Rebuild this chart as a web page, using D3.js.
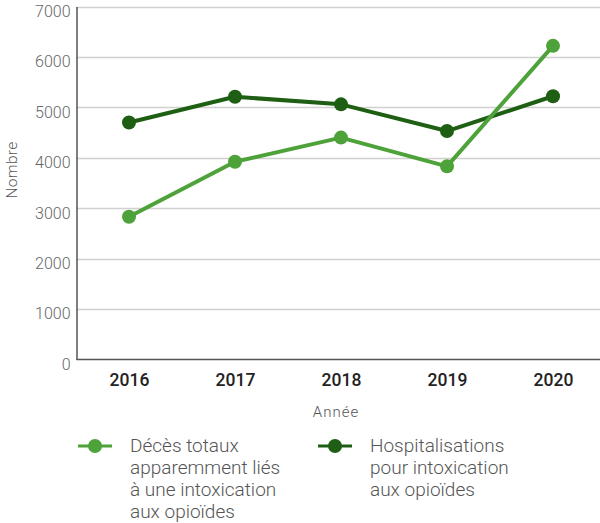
<!DOCTYPE html>
<html><head><meta charset="utf-8">
<script src="https://cdn.jsdelivr.net/npm/d3@7"></script>
<style>body{margin:0;background:#fff}svg{display:block;font-family:Roboto,sans-serif}</style>
</head><body><svg id="c" width="600" height="523"></svg>
<script>
const years = ["2016","2017","2018","2019","2020"];
const deces = [2830, 3920, 4400, 3830, 6220];
const hospit = [4700, 5210, 5060, 4530, 5220];
const yTicks = [0,1000,2000,3000,4000,5000,6000,7000];
const seriesNames = [["Décès totaux","apparemment liés","à une intoxication","aux opioïdes"],["Hospitalisations","pour intoxication","aux opioïdes"]];
const colors = ["#4ea23a","#1e5f14"];

const svg = d3.select("#c");
const x = d3.scalePoint().domain(years).range([129,553]);
const y = d3.scaleLinear().domain([0,7000]).range([359.5,6.5]);
const left = 76.5, right = 600;

svg.append("g").selectAll("line").data(yTicks.filter(d=>d>0)).join("line")
  .attr("x1",left).attr("x2",right).attr("y1",d=>Math.round(y(d))+0.5).attr("y2",d=>Math.round(y(d))+0.5)
  .attr("stroke","#d0d0d0").attr("stroke-width",1.5);

const ya = svg.append("g").attr("transform",`translate(${left},0)`)
  .call(d3.axisLeft(y).tickValues(yTicks).tickSize(0).tickPadding(6).tickFormat(d3.format("d")));
ya.select(".domain").attr("stroke","#555").attr("stroke-width",1.5);
ya.selectAll("text").attr("font-size",16).attr("fill","#666").attr("font-weight",300)
  .attr("font-family","Roboto").attr("dy","0.62em");

const xa = svg.append("g").attr("transform",`translate(0,${y(0)})`)
  .call(d3.axisBottom(x).tickSize(0).tickPadding(14));
xa.select(".domain").attr("d",`M${left},0H${right}`).attr("stroke","#555").attr("stroke-width",1.5);
xa.selectAll("text").attr("font-size",17.5).attr("fill","#222").attr("font-weight",500).attr("font-family","Roboto");

svg.append("text").attr("x",336).attr("y",416.5).attr("text-anchor","middle")
  .attr("font-size",15).attr("fill","#555").attr("font-weight",300).attr("letter-spacing",1).text("Année");
svg.append("text").attr("transform","translate(16.5,170) rotate(-90)").attr("text-anchor","middle")
  .attr("font-size",15.5).attr("fill","#555").attr("font-weight",300).attr("letter-spacing",0.3).text("Nombre");

const line = d3.line().x((d,i)=>x(years[i])).y(d=>y(d));
[hospit, deces].forEach((s,k)=>{
  const c = k===0?colors[1]:colors[0];
  svg.append("path").datum(s).attr("d",line).attr("fill","none").attr("stroke",c).attr("stroke-width",4).attr("stroke-linejoin","round");
  svg.append("g").selectAll("circle").data(s).join("circle")
    .attr("cx",(d,i)=>x(years[i])).attr("cy",d=>y(d)).attr("r",7).attr("fill",c);
});

const legX = [78,318];
seriesNames.forEach((lines,k)=>{
  const g = svg.append("g").attr("transform",`translate(${legX[k]},446)`);
  g.append("line").attr("x1",0).attr("x2",34).attr("y1",0).attr("y2",0).attr("stroke",colors[k]).attr("stroke-width",3);
  g.append("circle").attr("cx",17).attr("cy",0).attr("r",7).attr("fill",colors[k]);
  const t = g.append("text").attr("x",52).attr("y",6).attr("font-size",19).attr("fill","#555").attr("font-weight",300);
  lines.forEach((l,i)=>t.append("tspan").attr("x",52).attr("dy",i?22:0).text(l));
});
</script></body></html>
